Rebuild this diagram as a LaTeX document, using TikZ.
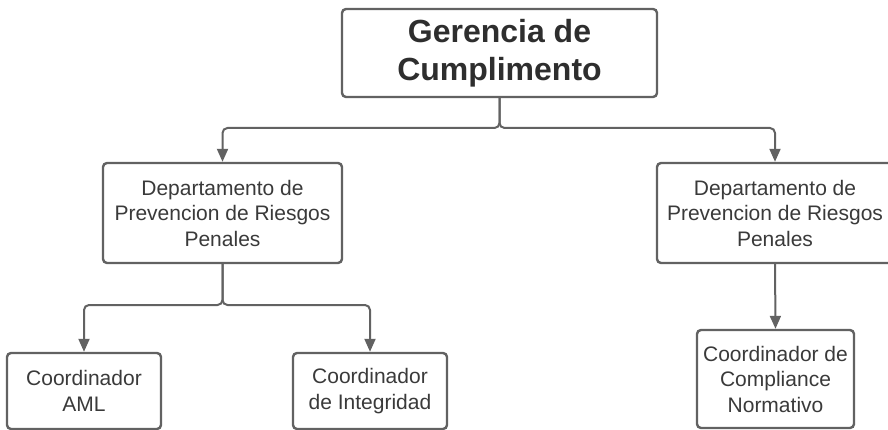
\documentclass[tikz,border=0pt]{standalone}
\usepackage{fontspec}
\setmainfont{Liberation Sans}
\usetikzlibrary{arrows.meta}
\definecolor{linec}{RGB}{98,98,98}
\definecolor{textc}{RGB}{58,58,58}
\tikzset{
  box/.style={draw=linec, line width=2.4pt, rounded corners=4pt, fill=white,
    align=center, text=textc, inner sep=0pt, font=\fontsize{21}{25.5}\selectfont},
  topbox/.style={box, font=\bfseries\fontsize{32}{37.5}\selectfont, text=black!82},
  conn/.style={draw=linec, line width=2pt, rounded corners=5pt,
    -{Triangle[length=13pt,width=11pt]}}
}
\begin{document}
\begin{tikzpicture}[x=1pt,y=-1pt]
\clip (0,0) rectangle (888,430);
\useasboundingbox (0,0) rectangle (888,430);
\node[topbox, minimum width=315pt, minimum height=88pt] (top) at (499.5,53) {Gerencia de\\Cumplimento};
\node[box, minimum width=239pt, minimum height=100pt] (dl) at (222.5,213) {Departamento de\\Prevencion de Riesgos\\Penales};
\node[box, minimum width=236pt, minimum height=100pt] (dr) at (775,213) {Departamento de\\Prevencion de Riesgos\\Penales};
\node[box, minimum width=154pt, minimum height=76pt] (aml) at (84,391) {Coordinador\\AML};
\node[box, minimum width=154pt, minimum height=76pt] (integ) at (370,391) {Coordinador\\de Integridad};
\node[box, minimum width=157pt, minimum height=98pt] (comp) at (775.5,379) {Coordinador de\\Compliance\\Normativo};
\coordinate (b1) at (499.5,128);
\coordinate (b2) at (222.5,305);
\draw[conn] (top.south) -- (b1) -| (dl.north);
\draw[conn] (top.south) -- (b1) -| (dr.north);
\draw[conn] (dl.south) -- (b2) -| (aml.north);
\draw[conn] (dl.south) -- (b2) -| (integ.north);
\draw[conn] (dr.south) -- (comp.north);
\end{tikzpicture}
\end{document}
